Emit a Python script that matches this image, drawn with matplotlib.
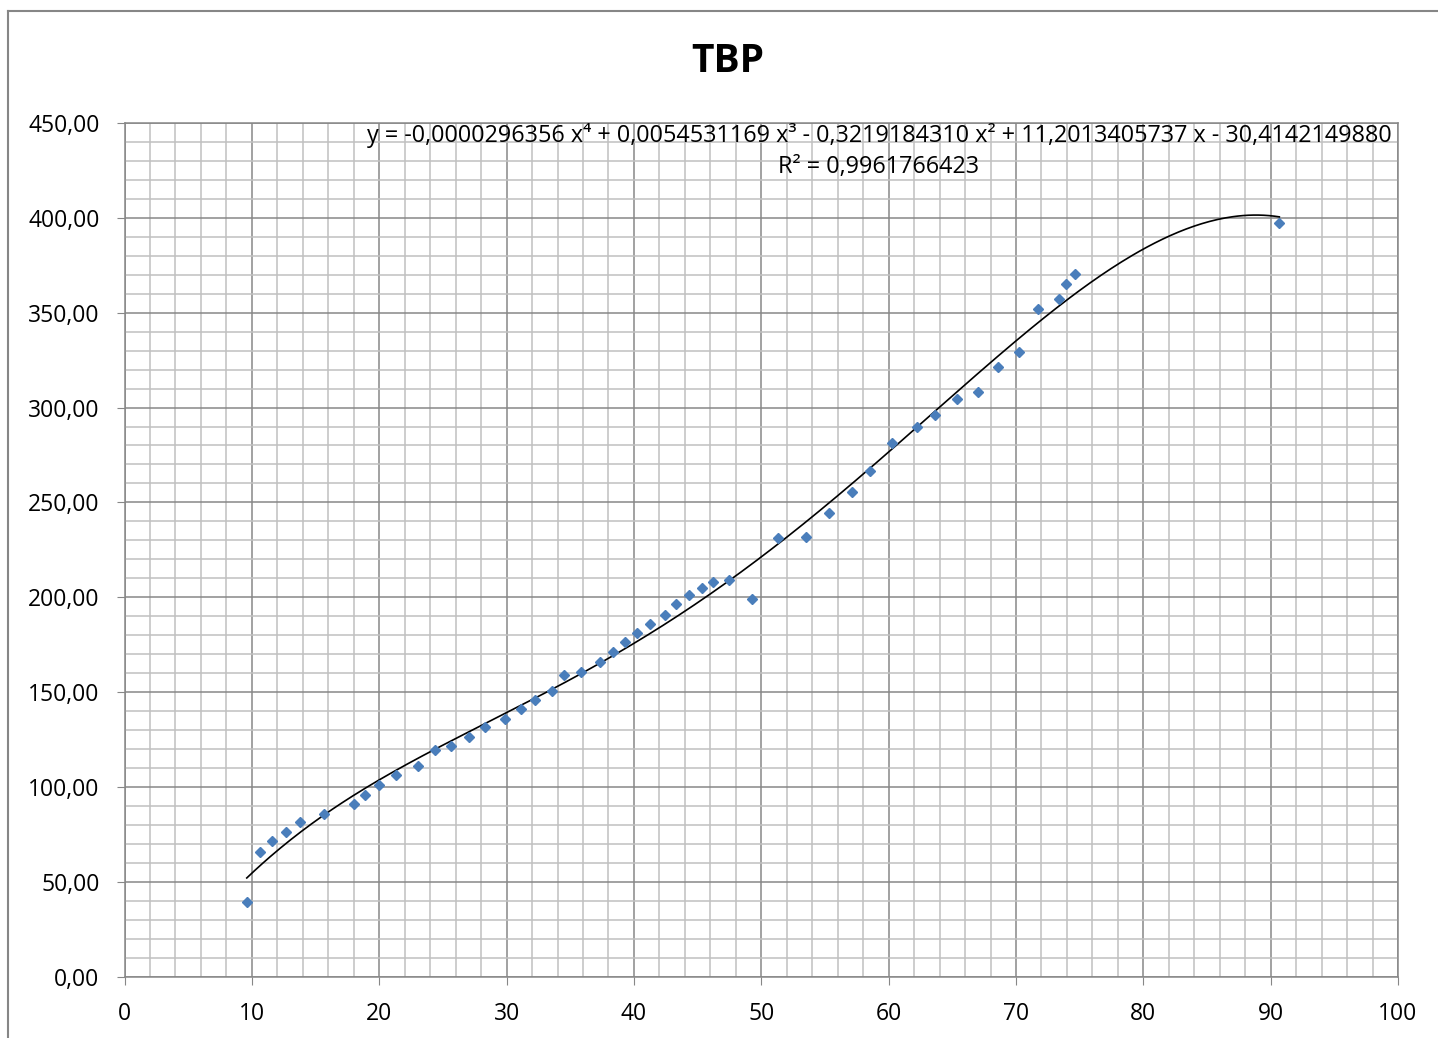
import numpy as np
import matplotlib.pyplot as plt
from matplotlib.ticker import MultipleLocator, FuncFormatter

plt.rcParams['font.family'] = ['Open Sans', 'DejaVu Sans']

# dados
x = [9.60, 10.64, 11.61, 12.66, 13.76, 15.69, 18.02, 18.88, 19.96, 21.30,
     23.06, 24.36, 25.64, 27.07, 28.28, 29.90, 31.11, 32.21, 33.57, 34.51,
     35.85, 37.31, 38.33, 39.32, 40.27, 41.29, 42.42, 43.33, 44.30, 45.37,
     46.19, 47.49, 49.30, 51.29, 53.54, 55.30, 57.10, 58.54, 60.27, 62.21,
     63.64, 65.35, 67.04, 68.61, 70.26, 71.75, 73.36, 73.93, 74.64, 90.68]
y = [39.5, 65.7, 71.4, 76.3, 81.4, 85.9, 91.0, 95.9, 101.2, 106.5,
     111.2, 119.3, 121.6, 126.4, 131.5, 136.0, 141.1, 145.9, 150.4, 158.9,
     160.8, 165.9, 171.2, 176.4, 181.0, 186.1, 190.7, 196.3, 201.2, 204.7,
     207.9, 209.3, 199.1, 231.3, 231.6, 244.3, 255.7, 266.7, 281.5, 289.6,
     296.3, 304.5, 308.1, 321.2, 329.5, 351.8, 357.4, 365.2, 370.3, 397.2]

# coeficientes da linha de tendencia (polinomial grau 4)
coef = [-0.0000296356, 0.0054531169, -0.3219184310, 11.2013405737, -30.4142149880]
r2 = 0.9961766423

fig = plt.figure(figsize=(14.38, 10.38), dpi=100)
ax = fig.add_axes([0.0866, 0.0591, 0.8856, 0.8224])

# moldura externa do grafico
fig.add_artist(plt.Line2D([7.5/1438, 1.0], [1 - 11/1038] * 2, color='#868686', lw=1.5))
fig.add_artist(plt.Line2D([7.5/1438] * 2, [0.0, 1 - 11/1038], color='#868686', lw=1.5))

xs = np.linspace(min(x), max(x), 400)
ax.plot(xs, np.polyval(coef, xs), color='black', lw=1.2, zorder=3)
ax.plot(x, y, 'D', color='#4A7EBB', markersize=4.8, zorder=4)

ax.set_xlim(0, 100)
ax.set_ylim(0, 450)
ax.xaxis.set_major_locator(MultipleLocator(10))
ax.xaxis.set_minor_locator(MultipleLocator(2))
ax.yaxis.set_major_locator(MultipleLocator(50))
ax.yaxis.set_minor_locator(MultipleLocator(10))
ax.yaxis.set_major_formatter(FuncFormatter(lambda v, p: f'{v:.2f}'.replace('.', ',')))

ax.grid(which='major', color='#878787', lw=1.1)
ax.grid(which='minor', color='#c0c0c0', lw=1.1)
ax.set_axisbelow(True)
for s in ax.spines.values():
    s.set_color('#878787')
    s.set_linewidth(1.1)
ax.tick_params(which='major', direction='out', length=6, color='#878787',
               labelsize=16.5, pad=12)
ax.tick_params(which='minor', length=0)

fig.text(728/1438, 1 - 62/1038, 'TBP', ha='center', va='center',
         fontsize=28, fontweight='bold')

eq = ('y = -0,0000296356 x⁴ + 0,0054531169 x³ - 0,3219184310 x² '
      '+ 11,2013405737 x - 30,4142149880')
ax.text(879/1438, 1 - 135/1038, eq, transform=fig.transFigure,
        ha='center', va='center', fontsize=16.8)
ax.text(879/1438, 1 - 167/1038, 'R² = ' + f'{r2:.10f}'.replace('.', ','),
        transform=fig.transFigure, ha='center', va='center', fontsize=16.8)

plt.savefig('out.png', dpi=100)
